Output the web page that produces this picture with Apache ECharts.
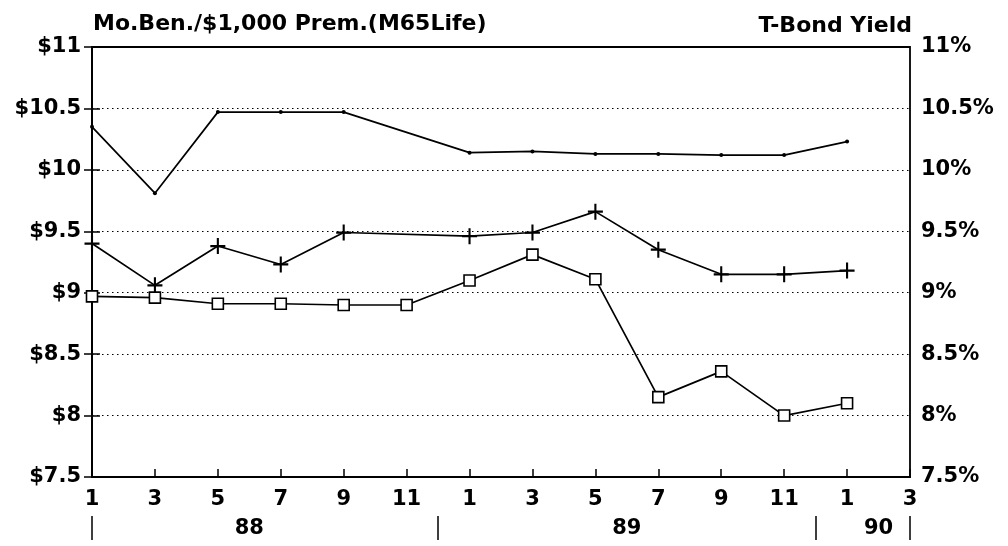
<!DOCTYPE html>
<html>
<head>
<meta charset="utf-8">
<script src="https://cdn.jsdelivr.net/npm/echarts@6/dist/echarts.min.js"></script>
<style>html,body{margin:0;padding:0;background:#fff;}#c{width:1008px;height:546px;}</style>
</head>
<body>
<div id="c"></div>
<script>
const months = ['1','3','5','7','9','11','1','3','5','7','9','11','1','3'];
const yearLabels = {2.5:'88', 8.5:'89', 12.5:'90'};
const yearLabelPos = [2.5, 8.5, 12.5];
const yearSeparators = [0, 5.5, 11.5, 13];
const topSeries = [10.35, 9.81, 10.47, 10.47, 10.47, null, 10.14, 10.15, 10.13, 10.13, 10.12, 10.12, 10.23, null];
const midSeries = [9.40, 9.06, 9.38, 9.23, 9.49, null, 9.46, 9.49, 9.66, 9.35, 9.15, 9.15, 9.18, null];
const lowSeries = [8.97, 8.96, 8.91, 8.91, 8.90, 8.90, 9.10, 9.31, 9.11, 8.15, 8.36, 8.00, 8.10, null];

const FONT = 'DejaVu Sans';
const lab = {color:'#000', fontFamily:FONT, fontWeight:'bold', fontSize:21};
const chart = echarts.init(document.getElementById('c'), null, {renderer:'canvas'});
const plus = 'path://M4.3,0h1.4v10h-1.4z M0,4.3h10v1.4h-10z';
chart.setOption({
  animation:false,
  backgroundColor:'#fff',
  title:[
    {text:'Mo.Ben./$1,000 Prem.(M65Life)', left:88, top:8, textStyle:{...lab, fontSize:22}},
    {text:'T-Bond Yield', right:91, top:10, textStyle:{...lab, fontSize:22}}
  ],
  grid:{left:92, right:98, top:47, bottom:69, show:true, borderColor:'#000', borderWidth:1.8, backgroundColor:'transparent'},
  xAxis:[
    {type:'category', data:months, boundaryGap:false,
     axisLine:{lineStyle:{color:'#000', width:1.8}},
     axisTick:{inside:true, length:8, lineStyle:{color:'#000', width:1.5}, alignWithLabel:true},
     axisLabel:{...lab, margin:12, interval:0},
     splitLine:{show:false}},
    {type:'value', min:0, max:13, position:'bottom', offset:39,
     axisLine:{show:false},
     axisTick:{show:true, customValues:yearSeparators, length:24, lineStyle:{color:'#000', width:1.5}},
     axisLabel:{show:false}, splitLine:{show:false}},
    {type:'value', min:0, max:13, position:'bottom', offset:41,
     axisLine:{show:false}, axisTick:{show:false},
     axisLabel:{...lab, customValues:yearLabelPos, margin:0, formatter:v=>yearLabels[v]||''},
     splitLine:{show:false}}
  ],
  yAxis:[
    {type:'value', min:7.5, max:11, interval:0.5, position:'left',
     axisLine:{show:true, lineStyle:{color:'#000', width:1.8}},
     axisTick:{show:true, inside:true, length:8, lineStyle:{color:'#000', width:1.5}},
     axisLabel:{...lab, margin:11, formatter:v=>'$'+v},
     splitLine:{show:true, lineStyle:{color:'#000', type:[1.5,3.5], width:1.2}}},
    {type:'value', min:7.5, max:11, interval:0.5, position:'right',
     axisLine:{show:true, lineStyle:{color:'#000', width:1.8}},
     axisTick:{show:true, inside:true, length:8, lineStyle:{color:'#000', width:1.5}},
     axisLabel:{...lab, margin:11, formatter:v=>v+'%'},
     splitLine:{show:false}}
  ],
  series:[
    {type:'line', data:topSeries, connectNulls:true, symbol:'circle', symbolSize:4,
     lineStyle:{color:'#000', width:1.7}, itemStyle:{color:'#000'}},
    {type:'line', data:midSeries, connectNulls:true, symbol:plus, symbolSize:[15,16],
     lineStyle:{color:'#000', width:1.7}, itemStyle:{color:'#000'}},
    {type:'line', data:lowSeries, connectNulls:true, symbol:'rect', symbolSize:11,
     lineStyle:{color:'#000', width:1.7}, itemStyle:{color:'#fff', borderColor:'#000', borderWidth:1.6}}
  ]
});
</script>
</body>
</html>
